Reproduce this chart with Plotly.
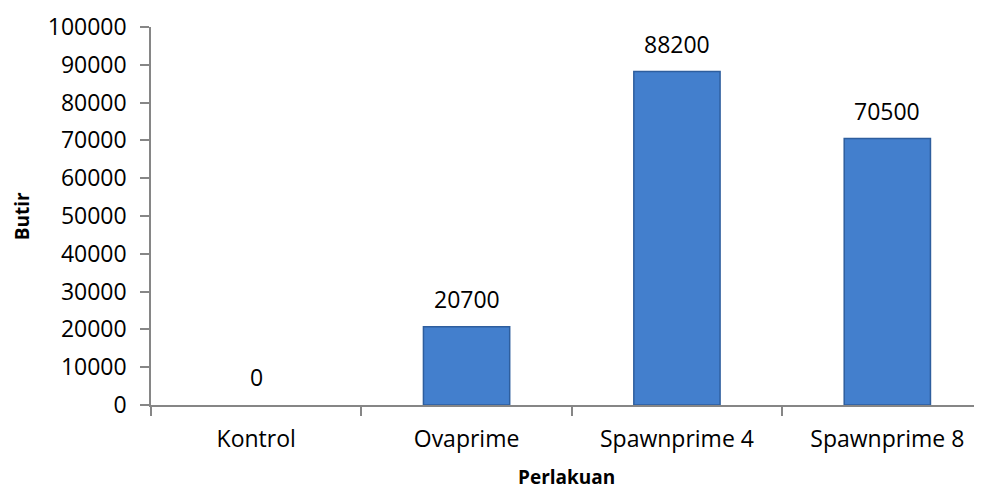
import plotly.graph_objects as go

categories = ["Kontrol", "Ovaprime", "Spawnprime 4", "Spawnprime 8"]
values = [0, 20700, 88200, 70500]
y_ticks = [0, 10000, 20000, 30000, 40000, 50000, 60000, 70000, 80000, 90000, 100000]

font_family = "Open Sans, Lato, sans-serif"

fig = go.Figure()
fig.add_trace(go.Bar(
    x=categories,
    y=values,
    width=0.41,
    marker=dict(color="#437FCD",
                line=dict(color="#2E5E9E", width=[0 if v == 0 else 1.5 for v in values])),
    hoverinfo="x+y",
))

# data labels above bars
for c, v in zip(categories, values):
    fig.add_annotation(
        x=c, y=v, xref="x", yref="y",
        text=str(v), showarrow=False,
        yanchor="middle", yshift=28,
        font=dict(family=font_family, size=23, color="#000000"),
    )

# axis titles
fig.add_annotation(
    x=0.5, y=-0.19, xref="paper", yref="paper",
    text="<b>Perlakuan</b>", showarrow=False,
    xanchor="center", yanchor="middle",
    font=dict(family=font_family, size=19, color="#000000"),
)
fig.add_annotation(
    x=-0.155, y=0.5, xref="paper", yref="paper",
    text="<b>Butir</b>", showarrow=False, textangle=-90,
    xanchor="center", yanchor="middle",
    font=dict(family=font_family, size=19, color="#000000"),
)

fig.update_layout(
    width=982, height=489,
    margin=dict(l=143, r=8, t=19, b=92, autoexpand=False),
    paper_bgcolor="white", plot_bgcolor="white",
    showlegend=False,
    font=dict(family=font_family, size=23, color="#000000"),
)
fig.update_xaxes(
    type="category",
    range=[-0.5, 3.45],
    automargin=False,
    showline=True, linecolor="#868686", linewidth=1.5,
    ticks="outside", tickson="boundaries", ticklen=9, tickcolor="#868686", tickwidth=1.5,
    showgrid=False,
    tickfont=dict(family=font_family, size=23),
    ticklabelstandoff=13,
)
fig.update_yaxes(
    range=[0, 100000],
    automargin=False,
    tickvals=y_ticks,
    ticktext=[str(t) for t in y_ticks],
    showline=True, linecolor="#868686", linewidth=1.5,
    ticks="outside", ticklen=9, tickcolor="#868686", tickwidth=1.5,
    showgrid=False, zeroline=False,
    tickfont=dict(family=font_family, size=23),
    ticklabelstandoff=9,
)

fig.write_html("out.html")
